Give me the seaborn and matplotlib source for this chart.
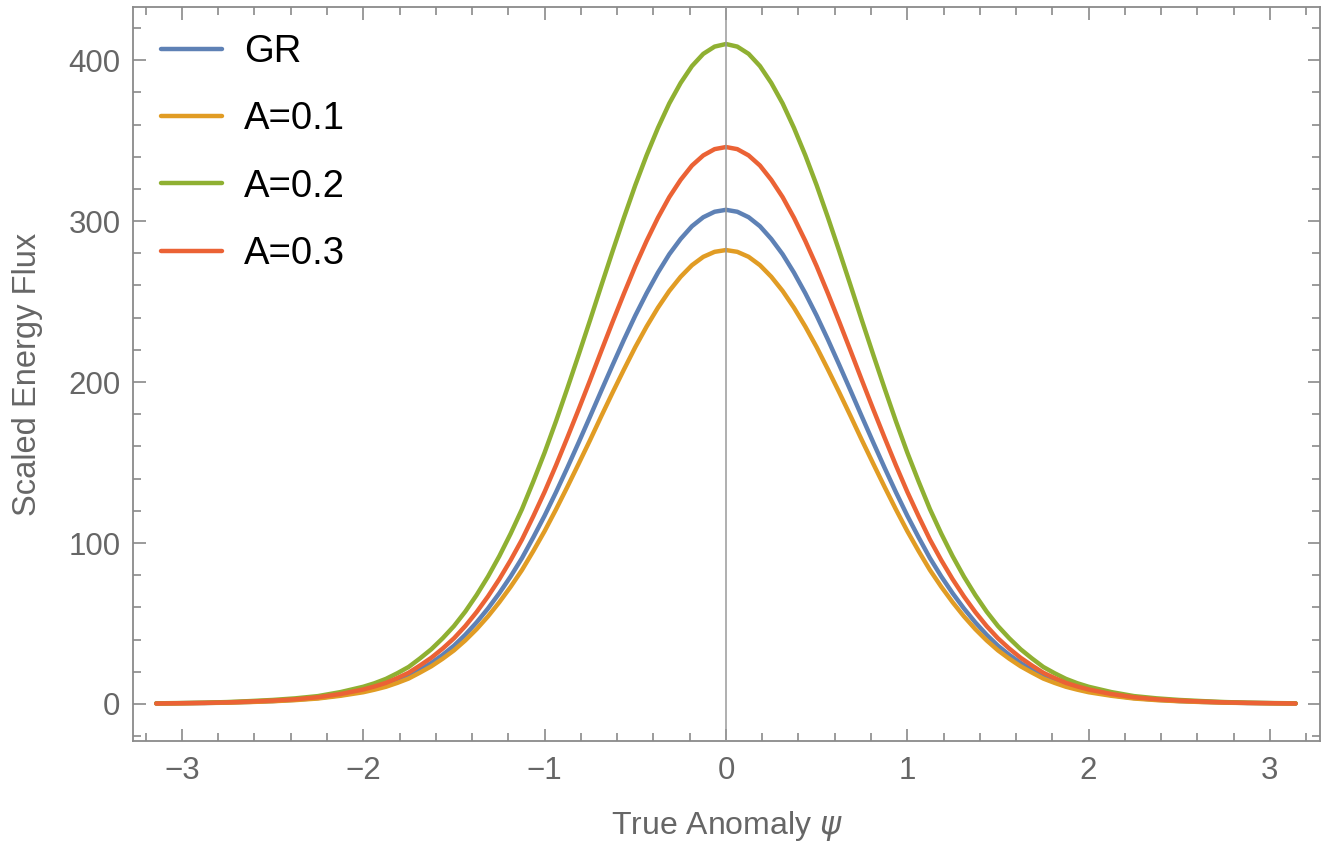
import numpy as np
import pandas as pd
import matplotlib
matplotlib.use('Agg')
import matplotlib.pyplot as plt
from matplotlib.ticker import MultipleLocator
import seaborn as sns

# True anomaly (right half, the curves are symmetric about psi = 0)
psi_half = [0.0, 0.0625, 0.125, 0.1875, 0.25, 0.3125, 0.375, 0.4375, 0.5, 0.5625,
            0.625, 0.6875, 0.75, 0.8125, 0.875, 0.9375, 1.0, 1.0625, 1.125, 1.1875,
            1.25, 1.3125, 1.375, 1.4375, 1.5, 1.5625, 1.625, 1.6875, 1.75, 1.8125,
            1.875, 1.9375, 2.0, 2.125, 2.25, 2.375, 2.5, 2.625, 2.75, 2.875, 3.0, np.pi]

# Scaled energy flux
flux_gr = [307, 305.8, 302.4, 296.8, 288.9, 279.4, 268.0, 255.2, 241.3, 226.3,
           210.6, 194.6, 178.4, 162.4, 146.7, 131.5, 117.0, 103.5, 90.6, 79.2,
           68.8, 59.3, 50.7, 43.0, 36.2, 30.5, 25.5, 21.2, 17.2, 14.3,
           11.7, 9.7, 8.0, 5.5, 3.7, 2.6, 1.8, 1.3, 0.9, 0.6, 0.5, 0.3]
flux_a01 = [282, 280.9, 277.8, 272.6, 265.4, 256.6, 246.2, 234.5, 221.7, 207.8,
            193.5, 178.8, 163.8, 149.2, 134.8, 120.8, 107.4, 95.0, 83.2, 72.8,
            63.2, 54.4, 46.5, 39.5, 33.3, 28.1, 23.4, 19.5, 15.8, 13.1,
            10.7, 8.9, 7.3, 5.1, 3.4, 2.4, 1.7, 1.2, 0.8, 0.6, 0.4, 0.3]
flux_a02 = [410, 408.4, 403.9, 396.3, 385.8, 373.1, 357.9, 340.9, 322.3, 302.2,
            281.3, 259.9, 238.2, 216.9, 196.0, 175.6, 156.2, 138.2, 121.0, 105.8,
            91.8, 79.1, 67.7, 57.4, 48.4, 40.8, 34.0, 28.3, 23.0, 19.1,
            15.6, 12.9, 10.7, 7.4, 4.9, 3.5, 2.5, 1.8, 1.2, 0.8, 0.6, 0.4]
flux_a03 = [346, 344.7, 340.8, 334.5, 325.6, 314.9, 302.1, 287.7, 272.0, 255.0,
            237.4, 219.3, 201.0, 183.0, 165.4, 148.2, 131.8, 116.6, 102.1, 89.3,
            77.5, 66.8, 57.1, 48.4, 40.8, 34.4, 28.7, 23.9, 19.4, 16.1,
            13.1, 10.9, 9.0, 6.2, 4.2, 2.9, 2.1, 1.5, 1.0, 0.7, 0.5, 0.3]

labels = ['GR', 'A=0.1', 'A=0.2', 'A=0.3']
colors = ['#5E81B5', '#E19C24', '#8FB032', '#EB6235']


def mirror(vals, neg=False):
    vals = list(vals)
    left = [-v for v in vals[:0:-1]] if neg else vals[:0:-1]
    return left + vals


psi = mirror(psi_half, neg=True)
rows = []
for name, vals in zip(labels, [flux_gr, flux_a01, flux_a02, flux_a03]):
    for x, y in zip(psi, mirror(vals)):
        rows.append({'psi': x, 'flux': y, 'model': name})
df = pd.DataFrame(rows)

sns.set_style('ticks')
plt.rcParams['font.family'] = ['Liberation Sans', 'DejaVu Sans']
plt.rcParams['mathtext.fontset'] = 'dejavusans'

gray = '#8a8a8a'
txt = '#666666'

fig = plt.figure(figsize=(13.36, 8.5), dpi=100)
ax = fig.add_axes([133 / 1336, 1 - 741 / 850, 1187 / 1336, 734 / 850])

ax.axvline(0, color='#9a9a9a', lw=1.1, zorder=5)
sns.lineplot(data=df, x='psi', y='flux', hue='model', hue_order=labels,
             palette=colors, linewidth=3.2, sort=False, estimator=None, ax=ax)

ax.set_xlim(-3.27, 3.276)
ax.set_ylim(-23, 433)
ax.xaxis.set_major_locator(MultipleLocator(1))
ax.xaxis.set_minor_locator(MultipleLocator(0.2))
ax.yaxis.set_major_locator(MultipleLocator(100))
ax.yaxis.set_minor_locator(MultipleLocator(20))

for s in ax.spines.values():
    s.set_color(gray)
    s.set_linewidth(1.3)
ax.tick_params(which='both', direction='in', top=True, right=True,
               color=gray, width=1.2, labelcolor=txt, labelsize=22.5)
ax.tick_params(which='major', length=9)
ax.tick_params(which='minor', length=5.5)
ax.tick_params(axis='x', which='major', pad=10.5)
ax.tick_params(axis='y', which='major', pad=9)

ax.set_xlabel('True Anomaly $\\psi$', fontsize=23, color=txt, labelpad=17)
ax.set_ylabel('Scaled Energy Flux', fontsize=23.5, color=txt, labelpad=18)

handles, labs = ax.get_legend_handles_labels()
ax.legend(handles, labs, loc='upper left', frameon=False, fontsize=27.5,
          labelcolor='black', bbox_to_anchor=(28 / 1187, 1 - 27 / 734),
          borderaxespad=0, borderpad=0, handlelength=1.6, handletextpad=0.58,
          labelspacing=0.82)

fig.savefig('out.png', dpi=100, facecolor='white')
